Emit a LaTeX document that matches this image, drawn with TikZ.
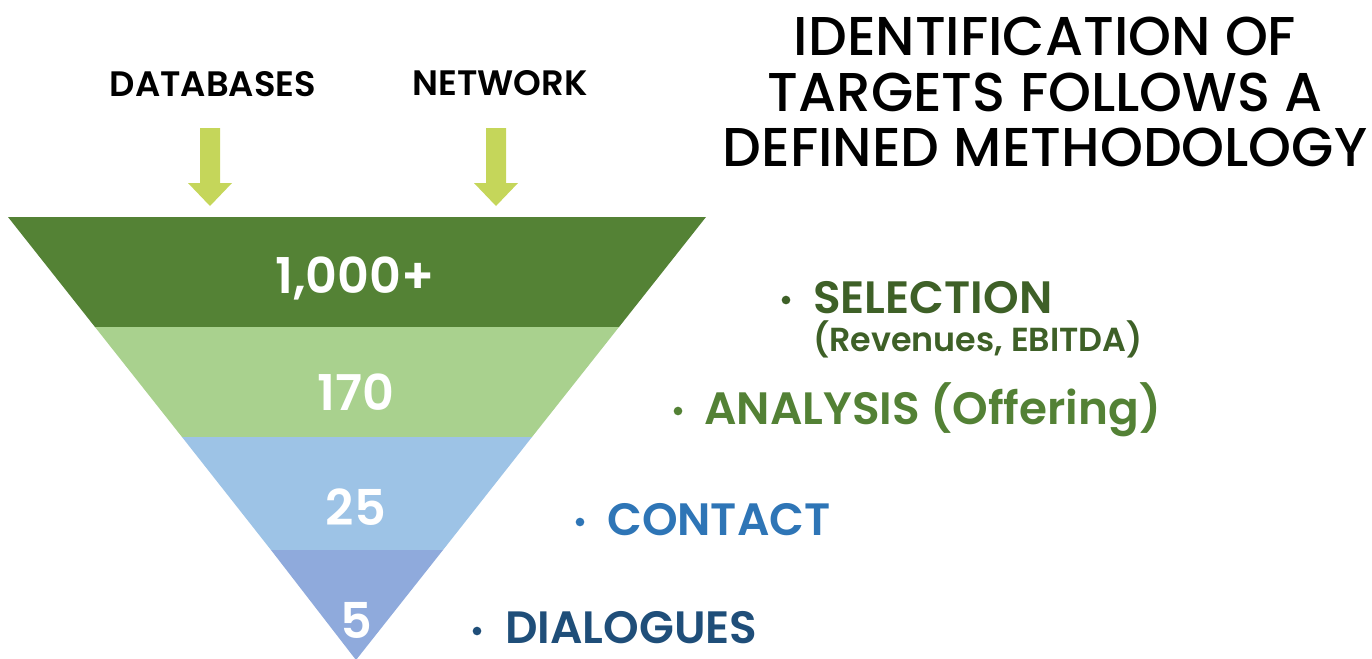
\documentclass[tikz,border=0pt]{standalone}
\usepackage{fontspec}
\setmainfont{Poppins}
\newfontfamily\headfont{Poppins Medium}
\newfontfamily\labfont{Poppins SemiBold}
\usetikzlibrary{calc}
\definecolor{bandA}{HTML}{548235}
\definecolor{bandB}{HTML}{A9D18E}
\definecolor{bandC}{HTML}{9DC3E6}
\definecolor{bandD}{HTML}{8FAADC}
\definecolor{arrowgreen}{HTML}{C5D65A}
\definecolor{selcol}{HTML}{3E6027}
\definecolor{anacol}{HTML}{538135}
\definecolor{concol}{HTML}{2E75B6}
\definecolor{dialcol}{HTML}{1F4E79}
\tikzset{
  numtext/.style={text=white, font=\labfont\fontsize{37}{42}\selectfont, inner sep=0pt},
  srctext/.style={font=\labfont\fontsize{26.5}{30}\selectfont, inner sep=0pt},
  steptext/.style={font=\labfont\fontsize{34}{40}\selectfont, inner sep=0pt, anchor=west},
  dotmark/.style={circle, inner sep=0pt, minimum size=6.5pt},
}
\begin{document}
\begin{tikzpicture}[x=0.75pt, y=-0.75pt]
\useasboundingbox (0,0) rectangle (1372,658);
% funnel bands
\fill[bandA] (8,217) -- (706,217) -- (619,327) -- (95,327) -- cycle;
\fill[bandB] (95,327) -- (619,327) -- (532,437) -- (182,437) -- cycle;
\fill[bandC] (182,437) -- (532,437) -- (443,550) -- (271,550) -- cycle;
\fill[bandD] (271,550) -- (443,550) -- (356,660) -- cycle;
% numbers
\node[numtext] (n1) at (355,278) {1,000+};
\node[numtext] (n2) at (356,392) {170};
\node[numtext] (n3) at (356,507) {25};
\node[numtext] (n4) at (356,620) {5};
% sources
\node[srctext] (db) at (213,84) {DATABASES};
\node[srctext] (nw) at (500,83) {NETWORK};
% down arrows
\foreach \cx in {210,496}{
  \fill[arrowgreen] (\cx-10,128) -- (\cx+10,128) -- (\cx+10,183) -- (\cx+22,183)
    -- (\cx,206) -- (\cx-22,183) -- (\cx-10,183) -- cycle;
}
% title
\node[font=\headfont\fontsize{41}{41.6}\selectfont, align=center, inner sep=0pt] (title) at (1045,92)
  {IDENTIFICATION OF\\TARGETS FOLLOWS A\\DEFINED METHODOLOGY};
% steps
\node[dotmark, fill=selcol] (b1) at (786,300) {};
\node[steptext, text=selcol] (s1) at (813,298) {SELECTION};
\node[font=\labfont\fontsize{25}{30}\selectfont, inner sep=0pt, anchor=west, text=selcol] (s1b) at (813,339) {(Revenues, EBITDA)};
\node[dotmark, fill=anacol] (b2) at (678,411) {};
\node[steptext, text=anacol] (s2) at (704,410) {ANALYSIS (Offering)};
\node[dotmark, fill=concol] (b3) at (580,522) {};
\node[steptext, text=concol] (s3) at (607,520) {CONTACT};
\node[dotmark, fill=dialcol] (b4) at (477,631) {};
\node[steptext, text=dialcol] (s4) at (505,628) {DIALOGUES};
\end{tikzpicture}
\end{document}
